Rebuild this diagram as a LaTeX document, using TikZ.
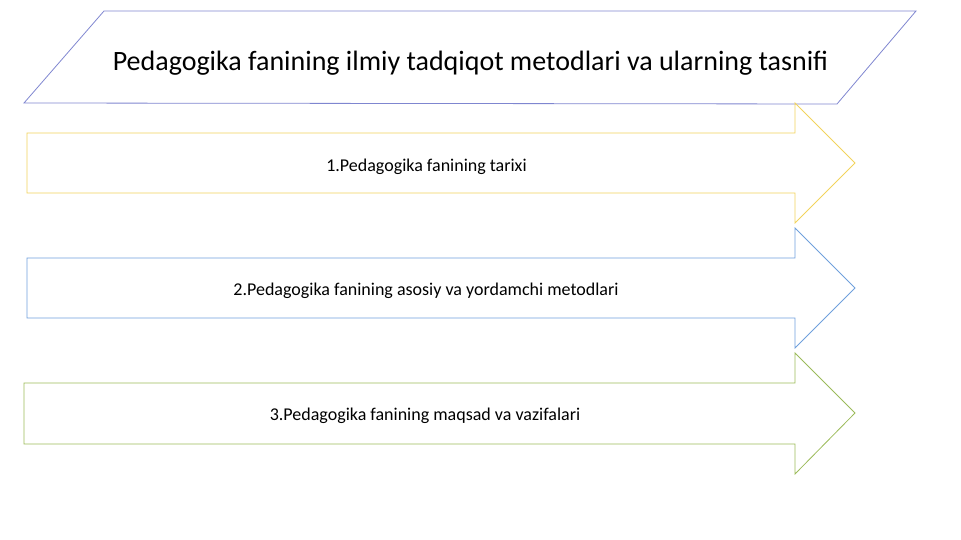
\documentclass[tikz,border=0pt]{standalone}
\usepackage{fontspec}
\setmainfont{Carlito}
\definecolor{parcol}{HTML}{7F86D0}
\definecolor{yelcol}{HTML}{F2D35C}
\definecolor{blucol}{HTML}{6FA0DC}
\definecolor{grncol}{HTML}{9BBB59}
\tikzset{
  shapeline/.style={line width=0.8pt, line join=miter},
  lbl/.style={inner sep=0pt, font=\fontsize{18}{21}\selectfont},
}
\begin{document}
\begin{tikzpicture}[x=1pt,y=-1pt]
\useasboundingbox (0,0) rectangle (961,540);
% title parallelogram
\draw[shapeline, parcol] (104,11) -- (916,11) -- (837,104) -- (24,103) -- cycle;
\node[inner sep=0pt, font=\fontsize{28}{33}\selectfont] (title) at (470.5,63) {Pedagogika fanining ilmiy tadqiqot metodlari va ularning tasnifi};
% arrow 1
\draw[shapeline, yelcol] (27,133) -- (795,133) -- (795,103) -- (855,163) -- (795,223) -- (795,193) -- (27,193) -- cycle;
\node[lbl] (a1) at (426.5,167) {1.Pedagogika fanining tarixi};
% arrow 2
\draw[shapeline, blucol] (27,258) -- (795,258) -- (795,228) -- (855,288) -- (795,348) -- (795,318) -- (27,318) -- cycle;
\node[lbl] (a2) at (426,291) {2.Pedagogika fanining asosiy va yordamchi metodlari};
% arrow 3
\draw[shapeline, grncol] (24,383) -- (795,383) -- (795,353) -- (855,413) -- (795,474) -- (795,444) -- (24,444) -- cycle;
\node[lbl] (a3) at (425,416) {3.Pedagogika fanining maqsad va vazifalari};
\end{tikzpicture}
\end{document}
